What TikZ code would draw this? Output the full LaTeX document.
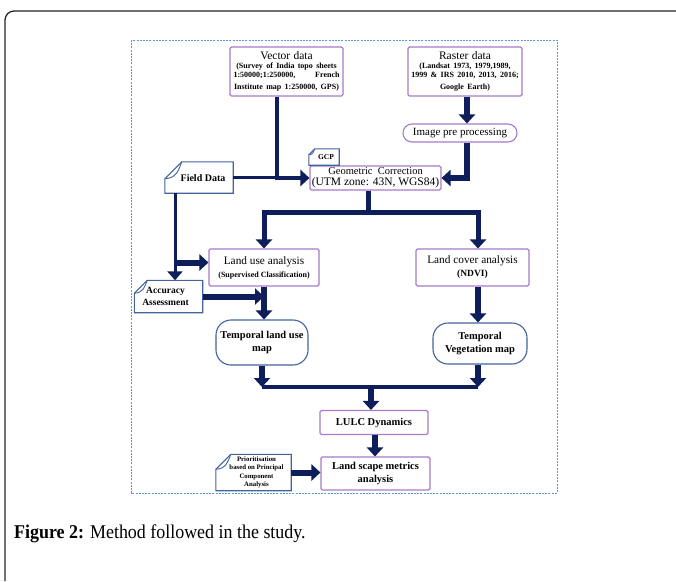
\documentclass[tikz,border=0pt]{standalone}
\usepackage{fontspec}
\setmainfont{Liberation Serif}
\newfontfamily\capfont{Liberation Serif}[FakeStretch=0.92]
\usetikzlibrary{arrows.meta,calc}
\definecolor{navy}{HTML}{0D1E5A}
\definecolor{purp}{HTML}{A67CCB}
\definecolor{steel}{HTML}{41639E}
\definecolor{dashb}{HTML}{5B9BD5}
\newcommand\notedraw[2][10]{%
  \draw[steel,line width=1.1pt,fill=white]
    ([yshift=-#1pt]#2.north west) -- ([xshift=#1pt]#2.north west) -- (#2.north east)
    -- (#2.south east) -- (#2.south west) -- cycle;
  \draw[steel,line width=0.9pt]
    ([yshift=-#1pt]#2.north west) .. controls ([xshift=0.7*#1pt,yshift=-0.95*#1pt]#2.north west)
    and ([xshift=0.8*#1pt,yshift=-0.5*#1pt]#2.north west) .. ([xshift=#1pt]#2.north west);
}
\tikzset{
  pbox/.style={draw=purp,line width=1.1pt,rounded corners=1.5pt,align=center,inner sep=0pt,fill=white},
  tbox/.style={draw=steel,line width=1.1pt,rounded corners=15pt,align=center,inner sep=0pt,fill=white,font=\bfseries\fontsize{10.5}{12.7}\selectfont},
  notetext/.style={align=center,inner sep=0pt},
  flow/.style={draw=navy,line width=6pt,-{Triangle[width=16pt,length=9pt]}},
  thinline/.style={draw=navy,line width=3pt},
  thinflow/.style={draw=navy,line width=3pt,-{Triangle[width=15pt,length=9pt]}},
}
\newcommand\smb{\bfseries\fontsize{8}{9.3}\selectfont}
\begin{document}
\begin{tikzpicture}[x=1pt,y=-1pt]
\useasboundingbox (0,0) rectangle (676,581);
\fill[white] (0,0) rectangle (676,581);
% outer frame
\draw[black!85,line width=1.3pt,rounded corners=9pt] (5,581) -- (5,11) -- (676,11);
% dashed frame
\draw[dashb,line width=0.9pt,dash pattern=on 2pt off 1.2pt] (131,40) rectangle (557,493);

% nodes
\node[pbox,minimum width=113pt,minimum height=49pt,text width=106pt] (vec) at (286.5,71.5)
  {{\fontsize{11.5}{13}\selectfont Vector data}\\[-1pt]
   {\smb (Survey of India topo sheets\\1:50000;1:250000,\hfill French\\Institute map 1:250000, GPS)}};
\node[pbox,minimum width=114pt,minimum height=49pt,text width=110pt] (ras) at (465,71.5)
  {{\fontsize{11.5}{13}\selectfont Raster data}\\[-1pt]
   {\smb (Landsat 1973, 1979,1989,\\1999 \& IRS 2010, 2013, 2016;\\Google Earth)}};
\node[pbox,rounded corners=9pt,minimum width=114pt,minimum height=18pt,font=\fontsize{11}{13}\selectfont] (img) at (460,133) {Image pre processing};
\node[pbox,minimum width=131pt,minimum height=24pt] (geo) at (375.5,178)
  {{\fontsize{10.5}{11}\selectfont Geometric\ \ Correction}\\[-1pt]{\fontsize{11.5}{12}\selectfont (UTM zone: 43N, WGS84)}};
\node[notetext,minimum width=30pt,minimum height=16pt] (gcp) at (324,157) {};
\notedraw[6]{gcp}
\node[notetext,font=\bfseries\fontsize{7.5}{9}\selectfont] at ([xshift=2pt]gcp.center) {GCP};

\node[notetext,minimum width=68pt,minimum height=31pt] (field) at (199,177.5) {};
\notedraw[17]{field}
\node[font=\bfseries\fontsize{10}{12}\selectfont,inner sep=0pt] at ([xshift=4pt,yshift=-1pt]field.center) {Field Data};

\node[pbox,minimum width=110pt,minimum height=37pt] (lu) at (264,267.5)
  {{\fontsize{11.3}{13}\selectfont Land use analysis}\\[1pt]{\smb (Supervised Classification)}};
\node[pbox,minimum width=113pt,minimum height=37pt] (lc) at (472.5,267.5)
  {{\fontsize{11.3}{13}\selectfont Land cover analysis}\\[1pt]{\bfseries\fontsize{9.5}{11}\selectfont (NDVI)}};

\node[notetext,minimum width=68pt,minimum height=32pt] (acc) at (168.5,296.5) {};
\notedraw[13]{acc}
\node[font=\bfseries\fontsize{9.5}{12}\selectfont,align=center,inner sep=0pt] at ([xshift=-3pt]acc.center) {Accuracy\\Assessment};

\node[tbox,minimum width=92pt,minimum height=45pt] (tlu) at (262,342.5) {Temporal land use\\map};
\node[tbox,minimum width=94pt,minimum height=41pt] (tveg) at (480,343.5) {Temporal\\Vegetation map};

\node[pbox,minimum width=108pt,minimum height=24pt,font=\bfseries\fontsize{10.5}{12}\selectfont] (lulc) at (374,422.5) {LULC Dynamics};
\node[pbox,minimum width=109pt,minimum height=33pt,font=\bfseries\fontsize{10.5}{12.7}\selectfont] (land) at (375.5,473.5) {Land scape metrics\\analysis};

\node[notetext,minimum width=75pt,minimum height=36pt] (prio) at (253.5,472.5) {};
\notedraw[15]{prio}
\node[font=\bfseries\fontsize{6.8}{8.3}\selectfont,align=center,inner sep=0pt] at ([xshift=3pt]prio.center) {Prioritisation\\based on Principal\\Component\\Analysis};

% connectors
\coordinate (vx) at ([xshift=-9.5pt]vec.south);
\draw[thinline] (field.east) -- (field.east -| vx);
\draw[draw=navy,line width=4.5pt,-{Triangle[width=16pt,length=9pt]}] (vx) |- (geo.west);
\draw[flow] ([xshift=2pt]ras.south) -- ([xshift=2pt]ras.south |- img.north);
\draw[flow] ([xshift=7pt]img.south) |- (geo.east);
\coordinate (gx) at ([xshift=-7pt]geo.south);
\coordinate (split) at ($(gx)+(0,22)$);
\draw[draw=navy,line width=5pt] (gx) -- (split);
\draw[flow,line width=5pt] (split) -| (lu.north);
\draw[flow,line width=5pt] (split) -| ([xshift=5.5pt]lc.north);

\coordinate (fx) at (175,193);
\draw[thinflow] (fx) -- (fx |- acc.north);
\draw[flow] ([yshift=5pt]lu.west -| fx) -- ([yshift=5pt]lu.west);
\draw[flow] (acc.east) -- (acc.east -| lu.south);
\draw[flow] (lu.south) -- (lu.south |- tlu.north);
\draw[flow] ([xshift=5.5pt]lc.south) -- ([xshift=5.5pt]lc.south |- tveg.north);

\coordinate (m) at (371,387);
\draw[flow] (tlu.south) -- (tlu.south |- m);
\draw[flow] ([xshift=-2pt]tveg.south) -- ([xshift=-2pt]tveg.south |- m);
\draw[draw=navy,line width=3.5pt] (tlu.south |- m) -- ([xshift=-2pt]tveg.south |- m);
\draw[flow] (m) -- (m |- lulc.north);
\draw[flow] ([xshift=1pt]lulc.south) -- ([xshift=1pt]lulc.south |- land.north);
\draw[flow] (prio.east) -- (prio.east -| land.west);

% caption
\node[anchor=base west,inner sep=0pt,font=\capfont\fontsize{19.5}{22}\selectfont] (cap) at (14,538)
  {\textbf{Figure 2:} Method followed in the study.};
\end{tikzpicture}
\end{document}
